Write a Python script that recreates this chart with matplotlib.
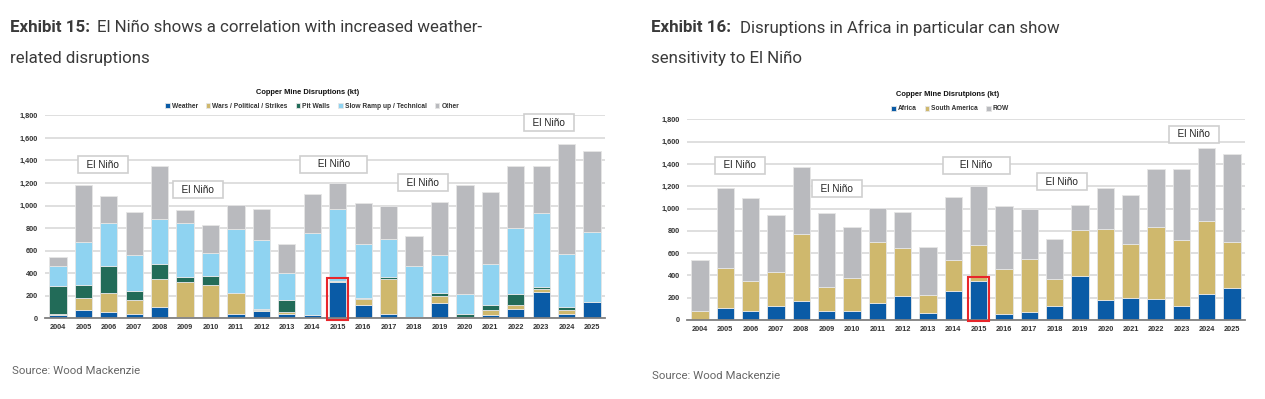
import matplotlib
matplotlib.use("Agg")
import matplotlib.pyplot as plt
from matplotlib.patches import Rectangle

W, H = 1265, 399

# ---- data (kt) ----
years = [str(y) for y in range(2004, 2026)]

weather   = [30, 74, 53, 38, 103, 15, 6, 41, 68, 41, 27, 320, 118, 41, 6, 136, 3, 33, 86, 234, 41, 148]
wars      = [5, 109, 169, 125, 243, 310, 290, 181, 6, 15, 3, 8, 50, 305, 3, 65, 12, 41, 35, 26, 36, 0]
pit_walls = [255, 113, 239, 82, 136, 45, 79, 6, 9, 107, 3, 6, 12, 18, 6, 24, 20, 44, 98, 15, 26, 0]
slow_ramp = [177, 384, 381, 317, 402, 472, 207, 564, 612, 236, 724, 633, 482, 339, 446, 337, 178, 361, 579, 656, 467, 621]
other     = [74, 502, 246, 381, 467, 116, 249, 210, 278, 260, 343, 230, 358, 293, 269, 470, 969, 644, 553, 423, 973, 715]

africa    = [3, 111, 78, 126, 170, 78, 84, 152, 218, 63, 263, 353, 51, 75, 126, 398, 182, 194, 191, 129, 236, 284]
south_am  = [81, 358, 272, 302, 598, 218, 296, 551, 428, 164, 278, 317, 403, 472, 245, 412, 631, 491, 646, 592, 655, 413]
row       = [454, 718, 741, 517, 604, 661, 454, 302, 326, 431, 559, 532, 566, 452, 356, 222, 374, 439, 517, 636, 649, 789]

left_series  = [("Weather", weather, "#0a5ba6"),
                ("Wars / Political / Strikes", wars, "#cfb86d"),
                ("Pit Walls", pit_walls, "#226b58"),
                ("Slow Ramp up / Technical", slow_ramp, "#8fd3f1"),
                ("Other", other, "#b9babe")]
right_series = [("Africa", africa, "#0a5ba6"),
                ("South America", south_am, "#cfb86d"),
                ("ROW", row, "#b9babe")]

# El Nino labels (x in bar index, y in kt)
NINO = "  El Niño  "
NINO_WIDE = "     El Niño     "
left_nino  = [(1.77, 1360, NINO), (5.5, 1138, NINO), (10.85, 1368, NINO_WIDE),
              (14.35, 1200, NINO), (19.3, 1732, NINO)]
right_nino = [(1.58, 1390, NINO), (5.41, 1175, NINO), (10.9, 1390, NINO_WIDE),
              (14.29, 1238, NINO), (19.5, 1668, NINO)]

CHART_FONT = ["Liberation Sans Narrow", "Liberation Sans", "DejaVu Sans"]
TITLE_FONT = ["Roboto", "DejaVu Sans"]
TEXT_GREY = "#3a3a3a"


def px_axes(l, t, r, b):
    return [l / W, 1 - b / H, (r - l) / W, (b - t) / H]


def ftext(x, y, s, **kw):
    return fig.text(x / W, 1 - y / H, s, **kw)


def panel(rect, series, nino, hl_top, title, title_xy, legend_xy):
    ax = fig.add_axes(px_axes(*rect))
    x = list(range(len(years)))
    bottom = [0] * len(years)
    handles = []
    for name, vals, col in series:
        b = ax.bar(x, vals, bottom=bottom, width=0.68, color=col,
                   edgecolor="#e6e6e6", linewidth=0.6, label=name, zorder=3)
        handles.append(b)
        bottom = [a + v for a, v in zip(bottom, vals)]

    ax.set_xlim(-0.51, len(years) - 0.49)
    ax.set_ylim(0, 1800)
    ax.set_yticks(range(0, 1801, 200))
    ax.set_yticklabels([f"{v:,}" for v in range(0, 1801, 200)])
    ax.set_xticks(x)
    ax.set_xticklabels(years)
    ax.grid(axis="y", color="#d9d9d9", lw=1.2, zorder=0)
    for s in ("top", "right", "left"):
        ax.spines[s].set_visible(False)
    ax.spines["bottom"].set_color("#808080")
    ax.spines["bottom"].set_linewidth(1.3)
    ax.spines["bottom"].set_zorder(4)
    ax.tick_params(length=0, labelsize=5.3, colors="#333333", pad=5)
    ax.tick_params(axis="x", pad=4)
    for lab in ax.get_xticklabels() + ax.get_yticklabels():
        lab.set_family(CHART_FONT)
        lab.set_fontweight("bold")

    for nx, ny, s in nino:
        ax.text(nx, ny, s, ha="center", va="center", fontsize=7.2,
                family=["Liberation Sans", "DejaVu Sans"], color="#222222", zorder=6,
                bbox=dict(boxstyle="square,pad=0.35", fc="white", ec="#cfcfcf", lw=1.2))

    # red highlight round the 2015 bottom segment
    ax.add_patch(Rectangle((11 - 0.42, -12), 0.84, hl_top + 12, fill=False,
                           ec="#e8262b", lw=1.5, zorder=7, clip_on=False))

    ftext(title_xy[0], title_xy[1], title, ha="center", va="center",
          fontsize=5.4, fontweight="bold", family=CHART_FONT, color="#111111")
    fig.legend(handles=handles, loc="center",
               bbox_to_anchor=(legend_xy[0] / W, 1 - legend_xy[1] / H),
               ncol=len(series), frameon=False, handlelength=0.7, handleheight=0.7,
               handletextpad=0.3, columnspacing=1.2,
               prop=dict(family=CHART_FONT, size=4.8, weight="bold"), labelcolor="#333333")
    return ax


fig = plt.figure(figsize=(W / 100, H / 100), dpi=100)

panel((45, 115.3, 605, 318.3), left_series, left_nino, 357,
      "Copper Mine Disruptions (kt)", (308, 93), (312, 106))
panel((687, 119.3, 1245, 320), right_series, right_nino, 386,
      "Copper Mine Disrutpions (kt)", (948, 94), (950, 109))

# exhibit headings
TSIZE = 12.2
ftext(10, 28, "Exhibit 15:", fontsize=TSIZE, fontweight="bold", family=TITLE_FONT, color=TEXT_GREY, va="center")
ftext(97, 28, "El Niño shows a correlation with increased weather-", fontsize=TSIZE,
      family=TITLE_FONT, color=TEXT_GREY, va="center")
ftext(10, 58, "related disruptions", fontsize=TSIZE, family=TITLE_FONT,
      color=TEXT_GREY, va="center")

ftext(651, 28, "Exhibit 16:", fontsize=TSIZE, fontweight="bold", family=TITLE_FONT, color=TEXT_GREY, va="center")
ftext(740, 28, "Disruptions in Africa in particular can show", fontsize=TSIZE,
      family=TITLE_FONT, color=TEXT_GREY, va="center")
ftext(651, 58, "sensitivity to El Niño", fontsize=TSIZE, family=TITLE_FONT,
      color=TEXT_GREY, va="center")

ftext(12, 371, "Source: Wood Mackenzie", fontsize=8.2, family=TITLE_FONT, color="#666666", va="center")
ftext(652, 376, "Source: Wood Mackenzie", fontsize=8.2, family=TITLE_FONT, color="#666666", va="center")

fig.savefig("out.png", dpi=100, facecolor="white")
